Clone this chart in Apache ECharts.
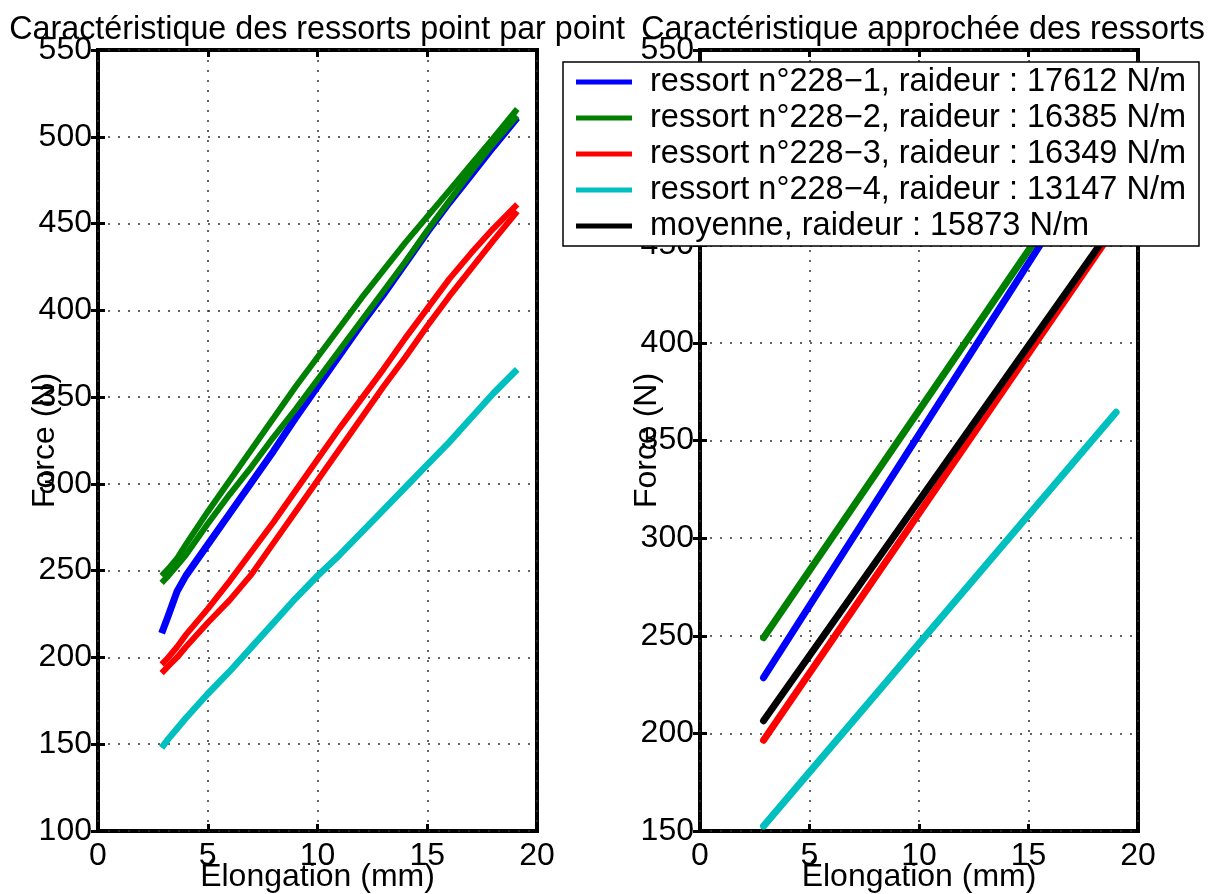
<!DOCTYPE html>
<html><head><meta charset="utf-8">
<script src="https://cdn.jsdelivr.net/npm/echarts@6/dist/echarts.min.js"></script>
<style>html,body{margin:0;padding:0;background:#fff}#c{width:1212px;height:894px}</style>
</head><body><div id="c"></div><script>
// ---------- data ----------
const titles = ['Caractéristique des ressorts point par point', 'Caractéristique approchée des ressorts'];
const xName = 'Élongation (mm)';
const yName = 'Force (N)';
const names = [
  'ressort n°228\u22121, raideur : 17612 N/m',
  'ressort n°228\u22122, raideur : 16385 N/m',
  'ressort n°228\u22123, raideur : 16349 N/m',
  'ressort n°228\u22124, raideur : 13147 N/m',
  'moyenne, raideur : 15873 N/m'
];
const colors = ['#0000ff', '#008000', '#ff0000', '#00bfbf', '#000000'];

// left plot : measured points (elongation in mm)
const xs      = [2.9, 3.2, 3.6, 4, 5, 6, 7, 8, 9, 10, 11, 12, 13, 14, 15, 16, 17, 18, 19.1];
const blue    = [214, 224, 238, 247, 265, 283, 301, 319, 338, 356, 374, 392, 409, 427, 445, 462, 478, 494, 511];
const greenUp = [247, 251, 257, 265, 284, 302, 320, 338, 356, 373, 390, 407, 423, 439, 454, 469, 484, 499, 516];
const greenLo = [243, 247, 253, 259, 277, 294, 310, 327, 343, 360, 377, 394, 411, 428, 446, 463, 480, 496, 512];
const redUp   = [196, 200, 206, 213, 228, 244, 261, 278, 296, 314, 332, 349, 366, 384, 401, 418, 433, 447, 461];
const redLo   = [191, 195, 200, 206, 220, 233, 248, 266, 284, 302, 320, 338, 356, 373, 391, 408, 424, 440, 457];
const cyan    = [148, 153, 159, 165, 179, 192, 206, 220, 234, 247, 259, 272, 285, 298, 311, 324, 338, 352, 366];

// right plot : fitted lines, end points
const fitX     = [2.9, 19.0];
const fitBlue  = [228.5, 511];
const fitGreen = [249, 513];
const fitRed   = [196.5, 460];
const fitCyan  = [152.5, 364.5];
const fitMean  = [206.5, 462];

const xTicks = {min: 0, max: 20, interval: 5};
const yTicksL = {min: 100, max: 550, interval: 50};
const yTicksR = {min: 150, max: 550, interval: 50};

// ---------- chart ----------
const FONT = 'Liberation Sans';
const fs = 32;
function xAxis(grid, pos, main) {
  return {
    type: 'value', gridIndex: grid, position: pos, min: xTicks.min, max: xTicks.max, interval: xTicks.interval,
    axisLine: {show: false},
    axisTick: {show: true, inside: true, length: 7, lineStyle: {color: '#000', width: 3}},
    axisLabel: {show: main, fontSize: fs, fontFamily: FONT, color: '#000', margin: 9},
    splitLine: {show: main, lineStyle: {color: '#333', width: 1.5, type: [2, 8]}},
    name: main ? xName : '', nameLocation: 'middle', nameGap: 30, nameMoveOverlap: false,
    nameTextStyle: {fontSize: fs, fontFamily: FONT, color: '#000'}
  };
}
function yAxis(grid, pos, main, t) {
  return {
    type: 'value', gridIndex: grid, position: pos, min: t.min, max: t.max, interval: t.interval,
    axisLine: {show: false},
    axisTick: {show: true, inside: true, length: 7, lineStyle: {color: '#000', width: 3}},
    axisLabel: {show: main, fontSize: fs, fontFamily: FONT, color: '#000', margin: 6},
    splitLine: {show: main, lineStyle: {color: '#333', width: 1.5, type: [2, 8]}},
    name: main ? yName : '', nameLocation: 'middle', nameGap: 37, nameMoveOverlap: false,
    nameTextStyle: {fontSize: fs, fontFamily: FONT, color: '#000'}
  };
}
function pts(xv, yv) { return xv.map((x, i) => [x, yv[i]]); }
function leftLine(nm, data, c, w) {
  return {type: 'line', name: nm, xAxisIndex: 0, yAxisIndex: 0, data: data, showSymbol: false,
    lineStyle: {color: c, width: w}, itemStyle: {color: c}, animation: false, silent: true};
}
function rightLine(i, data) {
  return {type: 'line', name: names[i], xAxisIndex: 2, yAxisIndex: 2, data: data, showSymbol: false,
    lineStyle: {color: colors[i], width: 7, cap: 'round'}, itemStyle: {color: colors[i]}, animation: false, silent: true};
}

const chart = echarts.init(document.getElementById('c'), null, {renderer: 'canvas'});
chart.setOption({
  backgroundColor: '#fff',
  animation: false,
  title: [
    {text: titles[0], left: 312, top: 9, textAlign: 'center', textStyle: {fontSize: 32.3, fontWeight: 'normal', fontFamily: FONT, color: '#000'}},
    {text: titles[1], left: 918, top: 9, textAlign: 'center', textStyle: {fontSize: 32.3, fontWeight: 'normal', fontFamily: FONT, color: '#000'}}
  ],
  grid: [
    {left: 98, right: 675, top: 50, bottom: 63, outerBoundsMode: 'none', containLabel: false, show: true, borderColor: '#000', borderWidth: 4, backgroundColor: 'transparent'},
    {left: 700, right: 74, top: 50, bottom: 63, outerBoundsMode: 'none', containLabel: false, show: true, borderColor: '#000', borderWidth: 4, backgroundColor: 'transparent'}
  ],
  xAxis: [xAxis(0, 'bottom', true), xAxis(0, 'top', false), xAxis(1, 'bottom', true), xAxis(1, 'top', false)],
  yAxis: [yAxis(0, 'left', true, yTicksL), yAxis(0, 'right', false, yTicksL), yAxis(1, 'left', true, yTicksR), yAxis(1, 'right', false, yTicksR)],
  legend: {
    data: names, orient: 'vertical', left: 563, top: 62, padding: [2, 13, 2, 13],
    itemWidth: 56, itemHeight: 5, itemGap: 0, icon: 'rect', selectedMode: false,
    backgroundColor: '#fff', borderColor: '#000', borderWidth: 1.5, z: 20,
    textStyle: {fontSize: 32.5, lineHeight: 36, fontFamily: FONT, color: '#000', padding: [0, 0, 0, 13]}
  },
  series: [
    leftLine('b', pts(xs, blue), colors[0], 7),
    leftLine('g1', pts(xs, greenUp), colors[1], 6),
    leftLine('g2', pts(xs, greenLo), colors[1], 6),
    leftLine('r1', pts(xs, redUp), colors[2], 6),
    leftLine('r2', pts(xs, redLo), colors[2], 6),
    leftLine('c', pts(xs, cyan), colors[3], 6.5),
    rightLine(0, pts(fitX, fitBlue)),
    rightLine(1, pts(fitX, fitGreen)),
    rightLine(2, pts(fitX, fitRed)),
    rightLine(3, pts(fitX, fitCyan)),
    rightLine(4, pts(fitX, fitMean))
  ]
});
</script></body></html>
